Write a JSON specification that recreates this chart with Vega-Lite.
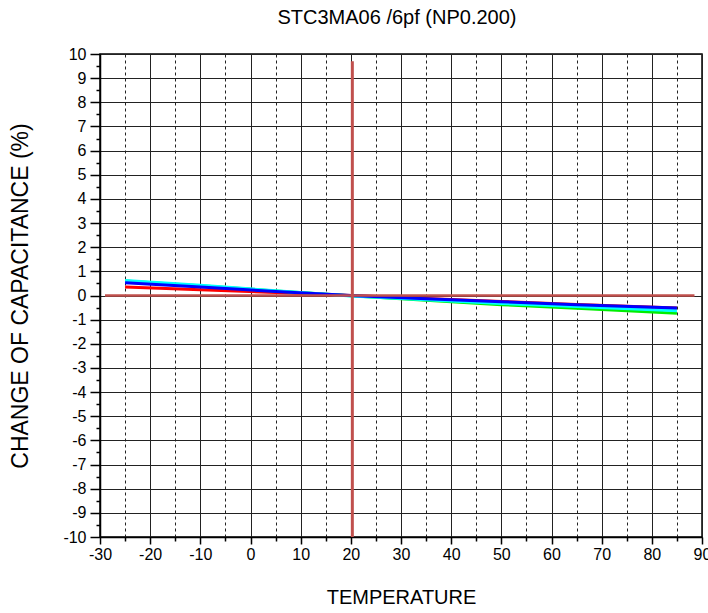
{
  "$schema": "https://vega.github.io/schema/vega-lite/v6.json",
  "width": 602,
  "height": 483,
  "autosize": "none",
  "padding": {"left": 100, "top": 54, "right": 6, "bottom": 76},
  "background": "white",
  "title": {
    "text": "STC3MA06 /6pf (NP0.200)",
    "font": "Liberation Sans",
    "fontSize": 20,
    "fontWeight": "normal",
    "color": "#000",
    "anchor": "middle",
    "frame": "group",
    "offset": 18,
    "dx": -4
  },
  "config": {
    "view": {"stroke": "#000", "strokeWidth": 1.5},
    "axis": {
      "labelFont": "Liberation Sans Narrow, Liberation Sans",
      "labelFontSize": 16,
      "labelColor": "#000",
      "titleFont": "Liberation Sans",
      "titleFontSize": 20,
      "titleFontWeight": "normal",
      "titleColor": "#000",
      "domainColor": "#000",
      "domainWidth": 1.5,
      "tickColor": "#000",
      "tickWidth": 1.5,
      "gridColor": "#222",
      "gridWidth": 1,
      "gridOpacity": 1
    }
  },
  "datasets": {
    "curves": [
      {"s": "S1", "t": -25, "v": 0.35},
      {"s": "S1", "t": -10, "v": 0.24},
      {"s": "S1", "t": 5, "v": 0.12},
      {"s": "S1", "t": 20, "v": 0.0},
      {"s": "S1", "t": 35, "v": -0.12},
      {"s": "S1", "t": 50, "v": -0.25},
      {"s": "S1", "t": 65, "v": -0.37},
      {"s": "S1", "t": 85, "v": -0.52},
      {"s": "S2", "t": -25, "v": 0.6},
      {"s": "S2", "t": -10, "v": 0.4},
      {"s": "S2", "t": 5, "v": 0.19},
      {"s": "S2", "t": 20, "v": -0.01},
      {"s": "S2", "t": 35, "v": -0.2},
      {"s": "S2", "t": 50, "v": -0.38},
      {"s": "S2", "t": 65, "v": -0.53},
      {"s": "S2", "t": 85, "v": -0.74},
      {"s": "S3", "t": -25, "v": 0.62},
      {"s": "S3", "t": -10, "v": 0.42},
      {"s": "S3", "t": 5, "v": 0.2},
      {"s": "S3", "t": 20, "v": -0.02},
      {"s": "S3", "t": 35, "v": -0.18},
      {"s": "S3", "t": 50, "v": -0.33},
      {"s": "S3", "t": 65, "v": -0.46},
      {"s": "S3", "t": 85, "v": -0.63},
      {"s": "S4", "t": -25, "v": 0.53},
      {"s": "S4", "t": -10, "v": 0.35},
      {"s": "S4", "t": 5, "v": 0.17},
      {"s": "S4", "t": 20, "v": 0.0},
      {"s": "S4", "t": 35, "v": -0.13},
      {"s": "S4", "t": 50, "v": -0.26},
      {"s": "S4", "t": 65, "v": -0.38},
      {"s": "S4", "t": 85, "v": -0.52}
    ],
    "hline": [{"t": -29, "t2": 88.5, "v": 0}],
    "vline": [{"t": 20.3, "v": -10, "v2": 9.7}]
  },
  "encoding": {
    "x": {
      "field": "t",
      "type": "quantitative",
      "scale": {"domain": [-30, 90], "nice": false, "zero": false},
      "axis": {
        "title": "TEMPERATURE",
        "values": [-30, -25, -20, -15, -10, -5, 0, 5, 10, 15, 20, 25, 30, 35, 40, 45, 50, 55, 60, 65, 70, 75, 80, 85, 90],
        "labelExpr": "datum.value % 10 === 0 ? '' + datum.value : ''",
        "tickSize": {"condition": {"test": "datum.value % 10 === 0", "value": 7}, "value": 4},
        "gridDash": {"condition": {"test": "datum.value % 10 !== 0", "value": [3, 3]}, "value": []},
        "labelPadding": 2,
        "titlePadding": 25,
        "labelFlush": false,
        "labelOverlap": false
      }
    },
    "y": {
      "field": "v",
      "type": "quantitative",
      "scale": {"domain": [-10, 10], "nice": false, "zero": false},
      "axis": {
        "title": "CHANGE OF CAPACITANCE (%)",
        "titleFontSize": 23,
        "values": [-10, -9.5, -9, -8.5, -8, -7.5, -7, -6.5, -6, -5.5, -5, -4.5, -4, -3.5, -3, -2.5, -2, -1.5, -1, -0.5, 0, 0.5, 1, 1.5, 2, 2.5, 3, 3.5, 4, 4.5, 5, 5.5, 6, 6.5, 7, 7.5, 8, 8.5, 9, 9.5, 10],
        "labelExpr": "datum.value % 1 === 0 ? '' + datum.value : ''",
        "tickSize": {"condition": {"test": "datum.value % 1 === 0", "value": 10}, "value": 4},
        "gridOpacity": {"condition": {"test": "datum.value % 1 !== 0", "value": 0}, "value": 1},
        "labelPadding": 4,
        "titlePadding": 30,
        "labelFlush": false,
        "labelOverlap": false
      }
    }
  },
  "layer": [
    {
      "data": {"name": "curves"},
      "mark": {"type": "line", "strokeWidth": 3},
      "encoding": {
        "color": {
          "field": "s",
          "type": "nominal",
          "scale": {"domain": ["S1", "S2", "S3", "S4"], "range": ["#ff0000", "#00ee00", "#00ffff", "#0000ff"]},
          "legend": null
        }
      }
    },
    {
      "data": {"name": "hline"},
      "mark": {"type": "rule", "color": "#c0504d", "strokeWidth": 2.5},
      "encoding": {
        "x2": {"field": "t2"}
      }
    },
    {
      "data": {"name": "vline"},
      "mark": {"type": "rule", "color": "#c0504d", "strokeWidth": 3},
      "encoding": {
        "y2": {"field": "v2"}
      }
    }
  ]
}
